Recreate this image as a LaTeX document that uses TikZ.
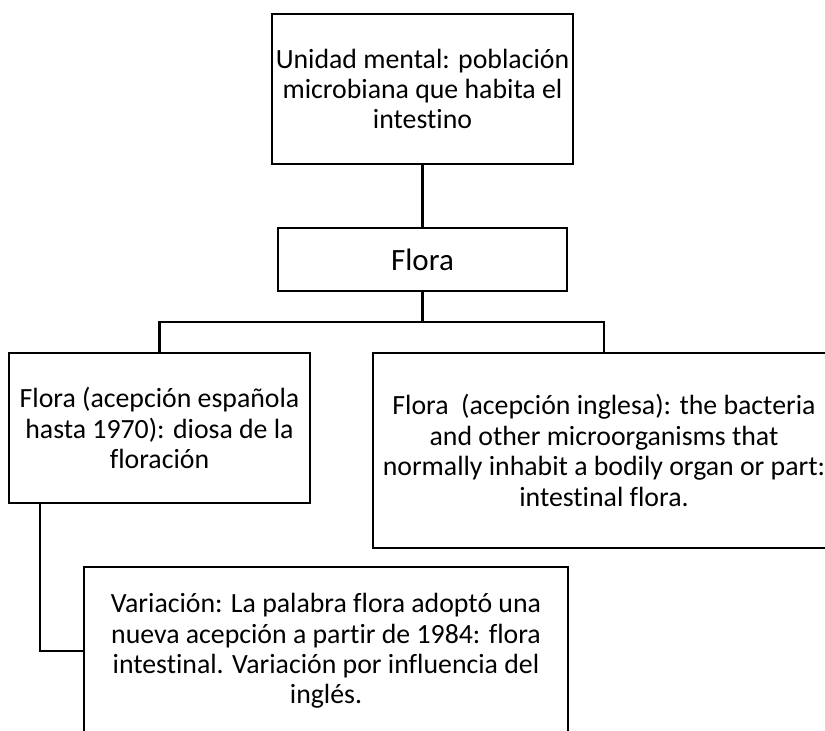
\documentclass[tikz,border=0pt]{standalone}
\usepackage{fontspec}
\setmainfont{Carlito}[Ligatures=NoCommon]
\begin{document}
\begin{tikzpicture}[x=1pt,y=-1pt,
  box/.style={draw=black, line width=2.6pt, inner sep=0pt, outer sep=0pt, align=center,
    font=\fontsize{27.8}{30.4}\selectfont, fill=white},
  link/.style={draw=black, line width=2.6pt}]
\useasboundingbox (0,0) rectangle (825,731);
\clip (0,0) rectangle (825,731);
\fill[white] (0,0) rectangle (825,731);
\node[box, minimum width=301pt, minimum height=150pt] (T) at (422.5,89)
  {Unidad mental: población\\microbiana que habita el\\intestino};
\node[box, minimum width=289pt, minimum height=63pt, font=\fontsize{31}{34}\selectfont] (F) at (422.5,259.5) {Flora};
\node[box, minimum width=301pt, minimum height=150pt] (B3) at (159.5,428)
  {Flora (acepción española\\hasta 1970): diosa de la\\floración};
\node[box, minimum width=462pt, minimum height=195pt] (B4) at (604,450.5)
  {Flora~ (acepción inglesa): the bacteria\\and other microorganisms that\\normally inhabit a bodily organ or part:\\intestinal flora.};
\node[box, minimum width=484pt, minimum height=168pt] (B5) at (326,651)
  {Variación: La palabra flora adoptó una\\nueva acepción a partir de 1984: flora\\intestinal. Variación por influencia del\\inglés.};
\coordinate (J) at (422.5,322);
\draw[link] (T.south) -- (F.north);
\draw[link] (F.south) -- (J);
\draw[link] (B3.north) |- (J) -| (B4.north);
\draw[link] ([xshift=31pt]B3.south west) |- (B5.west);
\end{tikzpicture}
\end{document}
